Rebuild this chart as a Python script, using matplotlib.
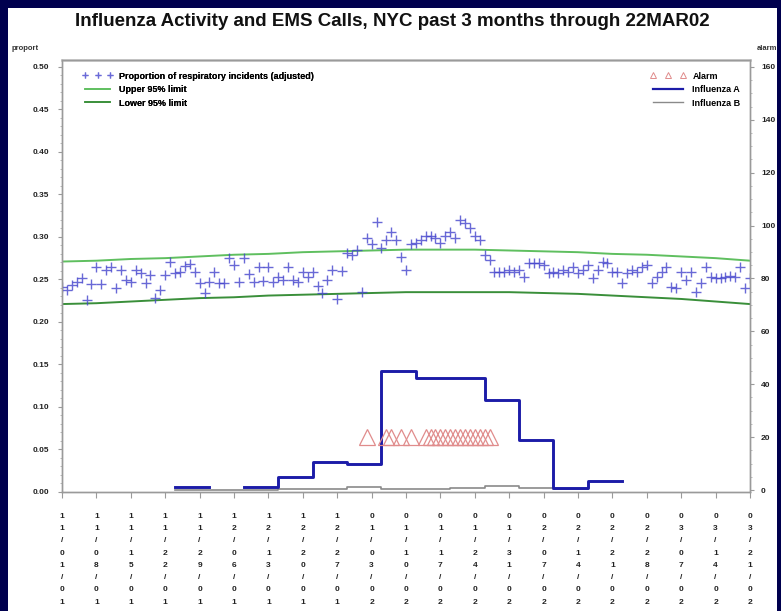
import numpy as np
import matplotlib
matplotlib.use("Agg")
import matplotlib.pyplot as plt
from matplotlib.lines import Line2D
from matplotlib.patches import Rectangle

# ---------------- data ----------------
title = "Influenza Activity and EMS Calls, NYC past 3 months through 22MAR02"
start_date = "2001-11-01"

# daily proportion of respiratory incidents (adjusted), from 2001-11-01
proportion = [
    0.241, 0.238, 0.244, 0.247, 0.252, 0.226, 0.245, 0.264, 0.245, 0.261,
    0.264, 0.240, 0.261, 0.249, 0.247, 0.261, 0.258, 0.246, 0.255, 0.228,
    0.238, 0.255, 0.271, 0.258, 0.259, 0.266, 0.268, 0.259, 0.246, 0.234,
    0.247, 0.259, 0.246, 0.246, 0.275, 0.267, 0.247, 0.275, 0.256, 0.247,
    0.265, 0.248, 0.265, 0.247, 0.253, 0.249, 0.265, 0.249, 0.247, 0.259,
    0.253, 0.259, 0.242, 0.234, 0.249, 0.261, 0.227, 0.260, 0.281, 0.279,
    0.285, 0.235, 0.299, 0.292, 0.318, 0.287, 0.296, 0.306, 0.296, 0.276,
    0.261, 0.292, 0.293, 0.296, 0.301, 0.301, 0.299, 0.293, 0.301, 0.306,
    0.299, 0.320, 0.316, 0.311, 0.301, 0.296, 0.279, 0.273, 0.259, 0.259,
    0.259, 0.261, 0.259, 0.261, 0.253, 0.269, 0.269, 0.269, 0.267, 0.258,
    0.259, 0.258, 0.261, 0.259, 0.264, 0.258, 0.261, 0.267, 0.252, 0.261,
    0.271, 0.269, 0.259, 0.259, 0.246, 0.258, 0.261, 0.259, 0.265, 0.267,
    0.246, 0.253, 0.259, 0.264, 0.241, 0.240, 0.259, 0.249, 0.259, 0.235,
    0.246, 0.264, 0.253, 0.252, 0.252, 0.253, 0.254, 0.253, 0.264, 0.240,
    0.252,
]

# weekly 95% limits at the tick dates
tick_dates = ["2001-11-01", "2001-11-08", "2001-11-15", "2001-11-22", "2001-11-29",
              "2001-12-06", "2001-12-13", "2001-12-20", "2001-12-27", "2002-01-03",
              "2002-01-10", "2002-01-17", "2002-01-24", "2002-01-31", "2002-02-07",
              "2002-02-14", "2002-02-21", "2002-02-28", "2002-03-07", "2002-03-14",
              "2002-03-21"]
upper_limit = [0.271, 0.272, 0.274, 0.275, 0.277, 0.279, 0.280, 0.282, 0.283, 0.284,
               0.285, 0.285, 0.285, 0.284, 0.283, 0.282, 0.280, 0.279, 0.277, 0.275,
               0.272]
lower_limit = [0.221, 0.222, 0.224, 0.226, 0.228, 0.229, 0.231, 0.232, 0.233, 0.234,
               0.235, 0.235, 0.235, 0.235, 0.234, 0.233, 0.231, 0.229, 0.227, 0.224,
               0.221]

# weekly influenza counts (right axis), weeks beginning on these dates
flu_weeks = ["2001-11-24", "2001-12-01", "2001-12-08", "2001-12-15", "2001-12-22",
             "2001-12-29", "2002-01-05", "2002-01-12", "2002-01-19", "2002-01-26",
             "2002-02-02", "2002-02-09", "2002-02-16", "2002-02-23"]
influenza_a = [1.0, np.nan, 1.0, 4.9, 10.6, 9.8, 44.9, 42.3, 42.3, 34.0, 18.9, 0.8, 3.4]
influenza_b = [0.0, 0.0, 0.0, 0.2, 0.4, 1.2, 0.3, 0.3, 0.9, 1.6, 0.9, 0.3, np.nan]

# alarm days
alarm_dates = ["2002-01-02", "2002-01-06", "2002-01-07", "2002-01-09", "2002-01-11",
               "2002-01-14", "2002-01-15", "2002-01-16", "2002-01-17", "2002-01-18",
               "2002-01-19", "2002-01-20", "2002-01-21", "2002-01-22", "2002-01-23",
               "2002-01-24", "2002-01-25", "2002-01-26", "2002-01-27"]
alarm_level = 20

left_ticks = [0.00, 0.05, 0.10, 0.15, 0.20, 0.25, 0.30, 0.35, 0.40, 0.45, 0.50]
right_ticks = [0, 20, 40, 60, 80, 100, 120, 140, 160]

# ---------------- figure ----------------
W, H = 781, 611
fig = plt.figure(figsize=(W / 100, H / 100), dpi=100)
fig.patch.set_facecolor("#00004e")
fig.add_artist(Rectangle((8 / W, 0), (W - 12) / W, (H - 8) / H,
                         transform=fig.transFigure, facecolor="white",
                         edgecolor="none", zorder=0))

plt.rcParams["font.family"] = ["Liberation Sans", "DejaVu Sans"]

x0, x1 = 62, 750
ytop, ybot = 60, 492
ax = fig.add_axes([x0 / W, (H - ybot) / H, (x1 - x0) / W, (ybot - ytop) / H])
ax.set_facecolor("white")
ax2 = ax.twinx()

d0 = np.datetime64(start_date)
days = d0 + np.arange(len(proportion)).astype("timedelta64[D]")
days = days.astype("datetime64[D]").astype(object)

td = np.array(tick_dates, dtype="datetime64[D]").astype(object)

ax.plot(days, proportion, linestyle="none", marker="+", ms=7, mew=1.0,
        color="#4444cc", alpha=0.8, zorder=3)
ax.plot(td, upper_limit, color="#5fbf5f", lw=1.4, zorder=2)
ax.plot(td, lower_limit, color="#3a8f3a", lw=1.4, zorder=2)

fw = np.array(flu_weeks, dtype="datetime64[D]").astype(object)
a_vals = list(influenza_a) + [influenza_a[-1]]
b_vals = list(influenza_b) + [influenza_b[-1]]
ax2.step(fw, a_vals, where="post", color="#1c1ca8", lw=2.1, zorder=4)
ax2.step(fw, b_vals, where="post", color="#8a8a8a", lw=1.2, zorder=3)

ad = np.array(alarm_dates, dtype="datetime64[D]").astype(object)
ax2.plot(ad, [alarm_level] * len(ad), linestyle="none", marker="^", ms=12,
         mfc="none", mec="#e08c8c", mew=0.9, zorder=5)

# axes scales
ax.set_xlim(td[0], td[-1])
ax.set_ylim(0.0, 0.508)
ax2.set_ylim(-0.75, 162.6)

ax.set_yticks(left_ticks)
ax.set_yticklabels(["%.2f" % v for v in left_ticks])
ax.set_yticks(np.arange(0, 0.505, 0.01), minor=True)
ax2.set_yticks(right_ticks)
ax2.set_yticklabels([str(v) for v in right_ticks])
ax2.set_yticks(np.arange(0, 161, 5), minor=True)

ax.set_xticks(td)
labels = []
for t in td:
    s = t.strftime("%m/%d/%y")
    labels.append("\n".join(list(s)))
ax.set_xticklabels(labels)
for t in ax.get_xticklabels():
    t.set_linespacing(2.05)
    t.set_fontsize(6)
    t.set_fontweight("bold")
    t.set_color("#222222")

for a in (ax, ax2):
    for s in a.spines.values():
        s.set_color("#9a9a9a")
        s.set_linewidth(1.0)
ax.spines["top"].set_color("#c8c8c8")
ax.spines["top"].set_linewidth(2.0)

ax.tick_params(axis="y", which="major", length=3, width=0.8, color="#9a9a9a",
               labelsize=6, pad=6, labelcolor="#222222")
ax.tick_params(axis="y", which="minor", length=1.5, width=0.6, color="#b0b0b0")
ax2.tick_params(axis="y", which="major", length=3, width=0.8, color="#9a9a9a",
                labelsize=6, pad=5, labelcolor="#222222")
ax2.tick_params(axis="y", which="minor", length=1.5, width=0.6, color="#b0b0b0")
ax.tick_params(axis="x", which="major", length=4, width=0.8, color="#9a9a9a", pad=11)
for t in ax.get_yticklabels() + ax2.get_yticklabels():
    t.set_fontweight("bold")

# title and axis captions
fig.text(392 / W, 1 - 22 / H, title, ha="center", va="center",
         fontsize=13.5, fontweight="bold", color="#111111")
fig.text(12 / W, 1 - 49 / H, "proport", ha="left", va="center",
         fontsize=5.5, fontweight="bold", color="#333333")
fig.text(757 / W, 1 - 49 / H, "alarm", ha="left", va="center",
         fontsize=5.5, fontweight="bold", color="#333333")

# legends
h1 = [Line2D([], [], linestyle="none", marker="+", ms=5, mew=0.9, color="#6a6ad8"),
      Line2D([], [], color="#5fbf5f", lw=1.2),
      Line2D([], [], color="#3a8f3a", lw=1.2)]
leg1 = ax.legend(h1, ["Proportion of respiratory incidents (adjusted)",
                      "Upper 95% limit", "Lower 95% limit"],
                 loc="upper left", bbox_to_anchor=(0.018, 0.992), frameon=False,
                 numpoints=3, handlelength=3.4, handletextpad=0.6,
                 labelspacing=0.5, prop={"size": 6.5, "weight": "bold"})
ax.add_artist(leg1)
h2 = [Line2D([], [], linestyle="none", marker="^", ms=4.5, mfc="none",
             mec="#e08c8c", mew=0.7),
      Line2D([], [], color="#1c1ca8", lw=1.6),
      Line2D([], [], color="#8a8a8a", lw=1.0)]
leg2 = ax2.legend(h2, ["Alarm", "Influenza A", "Influenza B"],
                  loc="upper right", bbox_to_anchor=(0.998, 0.992), frameon=False,
                  numpoints=3, handlelength=4.0, handletextpad=0.7,
                  labelspacing=0.5, prop={"size": 6.5, "weight": "bold"})

fig.savefig("out.png", dpi=100, facecolor=fig.get_facecolor())
